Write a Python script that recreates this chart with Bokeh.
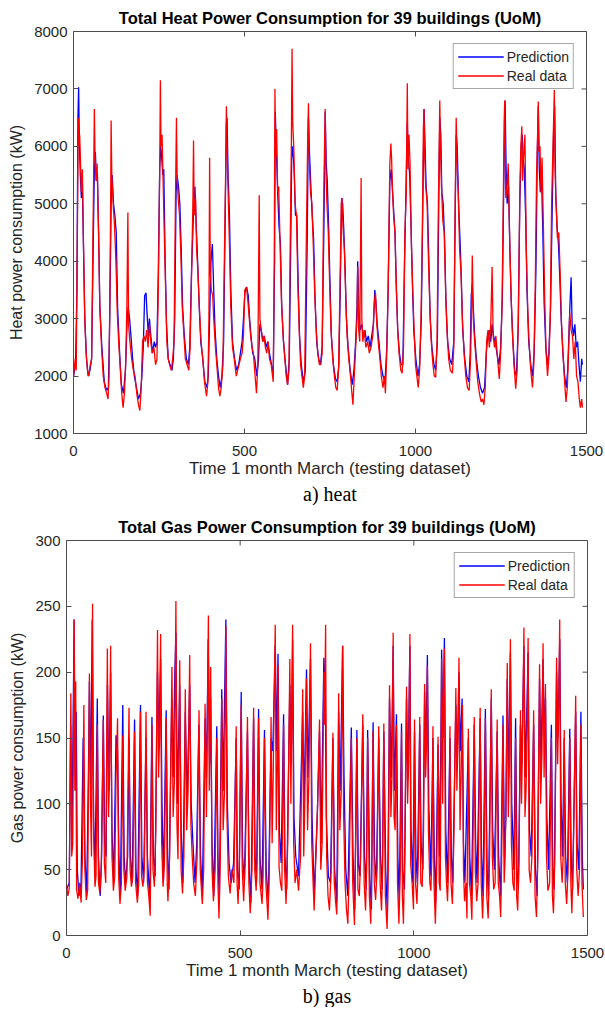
from bokeh.plotting import figure
from bokeh.models import Range1d, FixedTicker, LinearAxis, Title, Legend, LegendItem
from bokeh.layouts import column
from bokeh.embed import file_html
from bokeh.resources import INLINE

# ---------------- data ((time step, kW) vertices) ----------------
heat_real = [
(0,2000),(5,2300),(8,2100),(12,5000),(14,6500),(16,6000),(18,6200),(20,5800),(23,5200),(26,5600),(29,4400),(33,3000),(37,2400),(41,2100),(45,2000),(49,2200),(53,2300),(57,4500),(61,6650),(63,5800),(66,5400),(69,5700),(73,4600),(77,3200),(82,2500),(87,2000),(92,1800),(97,1700),(101,1600),(104,2000),(108,4500),(110,6450),(112,5500),(116,5000),(120,4600),(124,4000),(128,3100),(132,2600),(137,2100),(141,1700),(145,1450),(149,1700),(153,2300),(156,3200),(159,4850),(161,2900),(165,2600),(170,2300),(175,2100),(180,2000),(185,1700),(190,1500),(194,1400),(198,1800),(202,2600),(206,2700),(210,2600),(214,2800),(218,2500),(222,2900),(226,2600),(230,2400),(235,2500),(240,2200),(244,2300),(248,3500),(252,5500),(254,7150),(256,6000),(259,6200),(262,5400),(265,4600),(269,3600),(273,2600),(277,2300),(281,2200),(286,2100),(290,2300),(294,2600),(298,5000),(301,6500),(303,5500),(306,5100),(310,4800),(314,4100),(318,3200),(322,2800),(327,2300),(332,2200),(337,2100),(341,2500),(346,4000),(349,5000),(351,6100),(353,4800),(357,5100),(360,4200),(364,3800),(368,3200),(373,2600),(378,2300),(383,1900),(389,1650),(393,1900),(396,3000),(398,5800),(400,3800),(403,3500),(407,3400),(410,3000),(415,2500),(419,2200),(424,1800),(428,1650),(432,1800),(437,2200),(441,4000),(445,5600),(447,6700),(449,6000),(453,5000),(456,4300),(460,3200),(465,2500),(470,2300),(476,2000),(480,2100),(484,2200),(488,2300),(493,2400),(497,2700),(501,3500),(506,3550),(510,3300),(514,3000),(518,2700),(522,2500),(526,2400),(531,2000),(535,1700),(539,2200),(543,5150),(545,3000),(549,2800),(553,2600),(557,2700),(561,2500),(565,2400),(569,2600),(573,2300),(578,2200),(584,1900),(587,4000),(589,7000),(591,5800),(594,6300),(597,5200),(600,5300),(604,4300),(608,3300),(613,2700),(618,2300),(622,2000),(626,1850),(630,2100),(634,4500),(637,6000),(639,7700),(641,6400),(644,6000),(648,5000),(652,4800),(656,3600),(660,2800),(664,2200),(668,2000),(672,1800),(676,2000),(681,4500),(685,6200),(687,6750),(689,5800),(693,5200),(697,5000),(701,4300),(705,3500),(709,2900),(714,2400),(719,2200),(723,2200),(727,2400),(731,4800),(734,6000),(736,6650),(738,5600),(741,5000),(745,4500),(749,3600),(753,2800),(758,2300),(763,2000),(767,1800),(771,1750),(775,2100),(779,3500),(783,5000),(785,5100),(788,4600),(792,4200),(796,3400),(800,2700),(805,2300),(810,2000),(814,1700),(817,1500),(821,2000),(825,2500),(829,3000),(831,3900),(834,2800),(837,2600),(841,5450),(843,3000),(846,2600),(850,2800),(855,2500),(860,2600),(865,2400),(870,2500),(875,2700),(880,3300),(883,3450),(887,2900),(891,2600),(896,2300),(900,2000),(905,1800),(909,2000),(912,1700),(916,2400),(920,3500),(925,5700),(928,6050),(930,5800),(933,5200),(936,4800),(940,4500),(944,3600),(948,2800),(952,2400),(957,2100),(961,2050),(965,2500),(969,4500),(973,5200),(976,7100),(978,5600),(981,6200),(984,5700),(988,4300),(992,3500),(996,2800),(1000,2200),(1004,2000),(1008,1800),(1012,2100),(1016,3000),(1020,4500),(1023,6300),(1025,6650),(1027,5800),(1030,5300),(1034,5000),(1038,4000),(1042,3200),(1046,2600),(1051,2200),(1055,2000),(1059,1980),(1063,2600),(1067,5000),(1071,6800),(1073,6000),(1076,5300),(1080,4700),(1084,4500),(1088,3500),(1092,2800),(1097,2300),(1102,2100),(1108,2050),(1112,2500),(1116,5000),(1119,6500),(1122,5600),(1125,5200),(1129,4200),(1133,3800),(1137,3000),(1142,2400),(1147,2000),(1152,1800),(1157,1750),(1161,2300),(1164,3200),(1166,4100),(1169,3000),(1173,2600),(1178,2200),(1182,1900),(1187,1700),(1192,1550),(1196,1600),(1200,1500),(1204,1800),(1208,2600),(1212,2800),(1216,2500),(1220,2900),(1224,3900),(1227,2700),(1231,2500),(1235,2700),(1240,2300),(1245,1950),(1249,2400),(1253,3200),(1257,5200),(1259,6400),(1261,6800),(1264,5100),(1268,5300),(1271,5700),(1275,4500),(1279,3500),(1283,2800),(1288,2200),(1293,1780),(1297,2100),(1301,3000),(1305,5200),(1308,6000),(1311,6350),(1313,5400),(1316,5800),(1320,6200),(1324,4200),(1328,3200),(1332,2600),(1337,2100),(1342,1800),(1346,2200),(1350,3500),(1354,5500),(1357,6200),(1359,6780),(1361,5900),(1364,6000),(1367,5200),(1370,5800),(1374,4600),(1378,3300),(1382,2400),(1386,2000),(1390,2300),(1394,3000),(1398,5000),(1402,6000),(1406,6980),(1408,5600),(1411,5000),(1415,4400),(1419,4500),(1423,3800),(1427,2900),(1432,2300),(1436,1900),(1440,1550),(1444,1800),(1448,2500),(1451,3100),(1455,2800),(1459,2700),(1463,2300),(1467,2600),(1471,2000),(1475,1900),(1479,1600),(1482,1450),(1486,1600),(1488,1450)]

heat_pred = [
(0,2000),(6,2200),(10,3500),(13,6500),(15,7030),(17,6100),(20,5500),(23,5100),(26,5300),(29,4300),(33,3000),(38,2300),(43,2000),(48,2100),(53,2300),(57,4000),(61,5600),(64,5900),(67,5400),(70,5500),(73,4600),(77,3200),(83,2500),(90,1900),(97,1750),(102,1800),(106,3000),(110,5000),(113,5500),(117,5000),(121,4800),(125,4500),(129,3200),(134,2500),(140,1850),(146,1700),(152,2100),(157,3000),(160,3200),(164,3000),(168,2700),(173,2300),(178,2000),(184,1800),(190,1600),(196,1700),(200,2000),(204,2500),(208,3400),(212,3450),(215,3100),(219,2700),(222,3000),(226,2700),(231,2400),(236,2600),(240,2500),(244,2600),(248,3800),(252,5600),(255,6000),(258,5800),(261,5500),(264,5600),(268,4000),(272,2900),(277,2300),(282,2200),(288,2100),(292,2300),(296,3000),(300,5200),(303,5500),(307,5300),(311,5000),(315,4200),(319,3200),(324,2700),(330,2300),(336,2200),(340,2500),(345,3800),(350,4700),(355,5300),(359,4600),(363,4000),(367,3300),(372,2600),(378,2300),(384,1900),(390,1800),(394,2000),(398,3000),(402,4000),(406,4300),(410,3500),(414,2800),(419,2300),(424,2000),(429,1800),(434,2000),(439,2600),(443,4500),(447,6400),(449,6500),(452,5500),(456,4800),(460,3500),(465,2600),(471,2300),(477,2100),(483,2200),(488,2400),(493,2600),(497,3000),(501,3450),(506,3550),(511,3400),(515,3000),(519,2700),(524,2400),(530,2300),(536,2000),(541,2300),(545,2900),(549,2800),(554,2600),(558,2700),(563,2500),(568,2600),(573,2400),(579,2200),(584,2000),(588,4000),(590,6600),(593,6000),(597,5200),(601,4600),(605,4300),(609,3200),(614,2600),(620,2200),(626,1850),(631,2300),(635,4200),(638,5800),(641,6000),(645,5600),(649,4800),(653,4800),(657,3600),(661,2700),(666,2200),(672,1900),(678,2100),(683,4200),(687,6500),(690,5900),(694,5300),(698,4800),(702,4400),(706,3400),(711,2600),(717,2300),(722,2200),(727,2500),(732,4500),(736,6600),(739,5700),(742,5400),(746,4600),(750,3600),(754,2700),(760,2200),(766,1950),(771,1900),(776,2200),(780,3500),(784,5100),(787,5000),(790,4600),(794,3900),(798,3000),(803,2500),(809,2100),(815,1850),(820,2100),(825,2600),(829,3200),(831,4000),(834,3200),(838,2800),(843,2900),(847,2700),(852,2800),(857,2600),(862,2700),(867,2500),(872,2700),(877,2900),(881,3500),(884,3300),(888,2900),(893,2600),(899,2200),(905,2000),(911,1900),(916,2500),(920,3500),(925,5400),(929,5600),(932,5300),(936,4900),(940,4500),(944,3500),(948,2800),(953,2400),(958,2200),(963,2200),(968,4000),(972,5200),(976,6400),(979,5800),(983,5500),(987,4600),(991,3600),(995,2800),(1001,2300),(1007,2000),(1012,2200),(1017,3000),(1021,4800),(1025,6650),(1028,6000),(1031,5300),(1035,5000),(1039,4000),(1043,3000),(1048,2500),(1054,2200),(1059,2100),(1064,2600),(1068,5000),(1071,6500),(1074,6200),(1077,5200),(1081,5000),(1085,4400),(1089,3300),(1094,2600),(1100,2300),(1106,2200),(1112,2600),(1116,4800),(1119,6200),(1122,6000),(1126,5000),(1130,4400),(1134,3700),(1138,2800),(1144,2300),(1150,2000),(1156,1900),(1160,2400),(1163,3400),(1166,3600),(1169,3200),(1173,2700),(1178,2300),(1184,2000),(1190,1800),(1196,1700),(1202,1800),(1207,2400),(1211,2700),(1216,2800),(1220,2600),(1224,2900),(1228,2700),(1233,2600),(1238,2400),(1244,2200),(1249,2500),(1254,3400),(1258,5300),(1262,6800),(1265,5600),(1268,5000),(1272,5300),(1276,4200),(1280,3300),(1285,2600),(1290,2100),(1295,2000),(1300,2800),(1305,5000),(1309,6000),(1312,6200),(1315,5800),(1318,5600),(1322,4800),(1326,3500),(1331,2600),(1337,2200),(1342,2000),(1347,2400),(1352,3800),(1356,5800),(1359,6700),(1362,5600),(1365,5200),(1368,5600),(1372,4600),(1376,3300),(1381,2500),(1386,2200),(1390,2400),(1395,3200),(1400,5000),(1404,6300),(1407,6700),(1410,5200),(1414,4600),(1418,4300),(1422,3700),(1426,3000),(1431,2400),(1436,2000),(1441,1800),(1445,2100),(1449,2800),(1452,3300),(1455,3720),(1458,2900),(1462,2700),(1466,2900),(1470,2500),(1474,2600),(1478,2200),(1482,1900),(1486,2300),(1488,2200)]

gas_real = [
(0,38),(4,30),(8,36),(12.5,184),(15,60),(18,70),(22,240),(24,110),(26.5,193),(29,35),(33,28),(38,40),(42,25),(46,60),(50,175),(53,50),(57,27),(61,35),(66,199),(69,100),(72,60),(75,252),(78,80),(82,37),(85,45),(88.7,160),(92,40),(96,32),(100,50),(106,164),(109,55),(113,40),(117.6,218),(121,90),(124,120),(127,220),(131,60),(135,34),(139,45),(142.6,120),(147,165),(150,45),(154,24),(158,40),(162,152),(165,50),(169,34),(174,45),(180,173),(183,50),(187,37),(191,45),(196,155),(199,40),(204,25),(208,40),(213,170),(216,45),(220,37),(224,50),(229,170),(233,40),(237,30),(241,15),(246,160),(249,50),(253,37),(257,80),(262,232),(265,120),(268,150),(271,229),(274,70),(278,37),(282,55),(287,165),(290,40),(292,26),(297,60),(303.6,204),(307,90),(311,120),(315,254),(318,85),(321,58),(326,209),(330,50),(334,32),(338,60),(342,187),(346,80),(350,110),(354.7,213),(358,85),(362,60),(366,40),(371,30),(376,60),(381.6,171),(385,50),(391,24),(395,50),(399,176),(403,90),(408.5,243),(411,110),(415,204),(419,50),(423,26),(428,50),(432.7,150),(436,40),(439,13),(443,60),(447,180),(451,80),(455,110),(458.8,235),(462,90),(466,45),(471,32),(476,50),(482,40),(488.6,159),(491,40),(494,24),(498,60),(503,175),(506,50),(510,26),(515,60),(521,166),(525,40),(529,17),(534,50),(538.7,173),(542,50),(546,34),(549,60),(553,165),(557,40),(563,24),(566,45),(570,150),(574,40),(580,12),(584,50),(589,166),(592,70),(595,120),(598,180),(601,236),(604,80),(607,130),(609,205),(612,52),(616,40),(620,34),(625,160),(628,50),(632,24),(637,70),(643,210),(646,100),(651,236),(654,70),(658,40),(663,50),(668,34),(674,60),(680,187),(683,60),(686,100),(691,195),(694,80),(698,120),(702.5,222),(706,70),(710,40),(713,19),(718,60),(723,100),(728.5,164),(732,50),(736,70),(741,200),(743,160),(746,236),(749,60),(753,30),(757,19),(762,50),(767,154),(771,40),(775,25),(778,16),(781,60),(783.5,184),(787,80),(791,110),(795,220),(798,90),(802,40),(806,20),(810,9),(814,50),(820,150),(824,40),(829,8),(832,60),(836,150),(839,35),(843,30),(847,60),(853,168),(857,40),(861,19),(864,50),(867,150),(872,30),(876,9),(879,60),(882.7,155),(886,40),(890,27),(894,50),(899,159),(903,40),(907,19),(910,50),(913.6,161),(918,30),(923,5),(927,60),(930,190),(934,90),(937,120),(940.5,230),(943,90),(946,80),(950,160),(953,40),(957,9),(961,50),(964.6,155),(967,30),(970,9),(974,70),(979,189),(982,100),(985,130),(988.7,229),(991,54),(995,40),(999,20),(1002,164),(1005,40),(1009,24),(1013,60),(1017,166),(1020,40),(1024,37),(1028,80),(1031,191),(1034,120),(1037,150),(1039,205),(1042,80),(1046,40),(1049,34),(1052,60),(1055,159),(1058,40),(1062,9),(1066,50),(1069.7,151),(1073,40),(1076,34),(1078,120),(1080,210),(1083,100),(1085,180),(1088,218),(1091,60),(1094,40),(1097,26),(1101,60),(1104,159),(1107,40),(1111,24),(1115,70),(1121,188),(1124,110),(1127,150),(1130,211),(1133,80),(1136,120),(1140,175),(1143,50),(1146,26),(1150,40),(1153,13),(1157,157),(1160,40),(1164,30),(1167,12),(1170,60),(1174,166),(1177,50),(1181,26),(1185,40),(1191,173),(1194,40),(1198,13),(1202,50),(1206,165),(1210,30),(1214,13),(1218,60),(1223,187),(1226,60),(1230,35),(1234,40),(1240,164),(1243,40),(1247,30),(1250,14),(1253,60),(1256.7,160),(1260,40),(1263,60),(1266,120),(1269,207),(1272,90),(1275,130),(1278,225),(1281,70),(1285,40),(1289,34),(1293,150),(1296,30),(1299,19),(1303,60),(1307,171),(1310,100),(1313,150),(1317,234),(1320,90),(1323,110),(1326,150),(1329,226),(1332,50),(1336,40),(1340,60),(1345,171),(1349,30),(1353,14),(1357,60),(1362,206),(1365,100),(1369,140),(1372,222),(1375,120),(1379,191),(1382,60),(1386,34),(1391,40),(1396,150),(1399,30),(1402,17),(1406,60),(1411,211),(1414,130),(1417,170),(1420,240),(1423,60),(1427,40),(1430,60),(1433,156),(1436,40),(1440,24),(1444,50),(1449,150),(1452,40),(1455,17),(1459,60),(1466,182),(1469,50),(1473,30),(1477,50),(1481,160),(1484,40),(1488,14)]

gas_pred = [
(0,35),(8,40),(12,160),(16,80),(22,240),(25,120),(28,170),(31,50),(36,30),(42,40),(48,150),(53,60),(58,30),(63,120),(66,193),(70,110),(74,240),(78,90),(82,45),(88.7,180),(92,60),(97,30),(101,60),(106,167),(110,70),(114,60),(118,190),(122,110),(127,200),(131,80),(136,40),(142.6,152),(147,140),(151,60),(155,30),(162,175),(166,60),(170,40),(176,60),(180,150),(184,60),(189,40),(196,164),(200,50),(205,30),(213,175),(217,60),(222,40),(229,150),(233,60),(240,25),(246,166),(250,60),(255,45),(262,200),(266,150),(271,210),(275,100),(279,40),(287,171),(291,60),(295,35),(303,180),(307,120),(312,200),(315,230),(319,100),(326,190),(330,80),(335,40),(342,170),(347,100),(354.7,190),(359,100),(364,70),(370,40),(375,70),(381,160),(386,60),(391,30),(399,165),(403,120),(408,225),(412,130),(415,180),(419,70),(424,30),(432.7,159),(436,60),(440,25),(447,187),(451,110),(458.8,240),(463,100),(468,55),(474,40),(481,55),(488.6,150),(492,50),(497,35),(503,185),(507,60),(512,40),(521,155),(526,50),(531,25),(538.7,165),(543,60),(547,40),(553,172),(557,60),(563,35),(570,156),(575,50),(581,25),(589,150),(594,140),(601,220),(605,140),(609,214),(613,80),(618,55),(625,168),(629,60),(634,35),(643,190),(647,130),(651,225),(655,90),(660,60),(668,45),(680,170),(684,100),(691,202),(695,120),(702.5,210),(707,90),(713,30),(722,90),(728.5,155),(733,70),(741,211),(745,190),(748,90),(754,45),(760,40),(767,150),(772,50),(778,25),(783.5,170),(788,110),(795,220),(799,120),(804,50),(810,30),(820,158),(825,60),(830,20),(836,156),(840,55),(845,45),(853,160),(858,60),(863,35),(867,156),(873,45),(878,20),(882.7,162),(887,60),(892,40),(899,150),(904,60),(909,35),(913.6,155),(919,50),(924,15),(930,180),(935,120),(940.5,220),(944,110),(950,168),(954,60),(958,25),(964.6,161),(968,50),(973,35),(979,180),(983,120),(988.7,220),(992,80),(997,40),(1002,155),(1006,60),(1010,40),(1017,160),(1021,70),(1026,50),(1031,185),(1035,140),(1039,213),(1043,100),(1049,45),(1055,150),(1059,60),(1063,25),(1069.7,145),(1074,60),(1078,150),(1080,217),(1084,150),(1088,226),(1092,80),(1097,40),(1104,150),(1108,60),(1112,40),(1121,175),(1125,130),(1130,200),(1134,140),(1139,180),(1143,70),(1147,40),(1157,150),(1161,60),(1166,30),(1174,160),(1178,70),(1182,40),(1191,165),(1195,60),(1199,30),(1206,172),(1211,50),(1215,30),(1223,180),(1227,80),(1232,50),(1240,155),(1244,60),(1250,30),(1256.7,167),(1261,60),(1265,90),(1269,195),(1273,120),(1278,215),(1282,100),(1288,50),(1293,165),(1297,50),(1301,35),(1307,160),(1311,130),(1317,220),(1321,120),(1329,215),(1333,80),(1338,60),(1345,160),(1350,50),(1355,30),(1362,195),(1366,130),(1372,210),(1376,150),(1379,180),(1383,90),(1388,50),(1396,160),(1400,50),(1404,35),(1411,200),(1415,150),(1420,225),(1424,100),(1428,60),(1433,150),(1437,60),(1442,40),(1449,157),(1453,60),(1457,35),(1466,170),(1470,70),(1475,50),(1481,170),(1485,60),(1488,35)]

x_ticks = [0, 500, 1000, 1500]
heat_y_ticks = [1000, 2000, 3000, 4000, 5000, 6000, 7000, 8000]
gas_y_ticks = [0, 50, 100, 150, 200, 250, 300]
series_names = ["Prediction", "Real data"]

AX = "#4d4d4d"
TXT = "#262626"
SANS = "Liberation Sans"
TICK_PX = 5


def panel(title, ylabel, caption, pred, real, yr, yticks,
          left, right, top, bottom, fw, fh, ylab_standoff, cap_standoff):
    p = figure(frame_width=fw, frame_height=fh,
               x_range=Range1d(0, 1500), y_range=Range1d(*yr),
               output_backend="svg", toolbar_location=None,
               min_border_left=left, min_border_right=right,
               min_border_top=top, min_border_bottom=bottom,
               x_axis_type=None, y_axis_type=None)
    p.grid.visible = False
    p.outline_line_color = AX
    p.outline_line_width = 1
    p.background_fill_color = "white"
    p.border_fill_color = "white"

    def style(ax):
        ax.axis_line_color = None
        ax.major_tick_line_color = AX
        ax.major_tick_in = TICK_PX
        ax.major_tick_out = 0
        ax.minor_tick_line_color = None
        ax.major_label_text_font = SANS
        ax.major_label_text_font_size = "15px"
        ax.major_label_text_color = TXT
        ax.axis_label_text_font = SANS
        ax.axis_label_text_font_style = "normal"
        ax.axis_label_text_color = TXT

    xb = LinearAxis(ticker=FixedTicker(ticks=x_ticks),
                    axis_label="Time 1 month March (testing dataset)")
    style(xb)
    xb.axis_label_text_font_size = "17px"
    xb.major_label_standoff = 12
    xb.axis_label_standoff = 0
    p.add_layout(xb, "below")

    yl = LinearAxis(ticker=FixedTicker(ticks=yticks), axis_label=ylabel)
    style(yl)
    yl.axis_label_text_font_size = "16px"
    yl.major_label_standoff = 6
    yl.axis_label_standoff = ylab_standoff
    p.add_layout(yl, "left")

    # inward tick marks on the top and right edges of the box (MATLAB style)
    dx = 1500 / fw * TICK_PX
    dy = (yr[1] - yr[0]) / fh * TICK_PX
    p.segment(x0=x_ticks, y0=[yr[1]] * len(x_ticks),
              x1=x_ticks, y1=[yr[1] - dy] * len(x_ticks),
              line_color=AX, line_width=1)
    p.segment(x0=[1500] * len(yticks), y0=yticks,
              x1=[1500 - dx] * len(yticks), y1=yticks,
              line_color=AX, line_width=1)

    p.title.text = title
    p.title.align = "center"
    p.title.text_font = SANS
    p.title.text_font_size = "16.5px"
    p.title.text_font_style = "bold"
    p.title.text_color = "black"
    p.title.standoff = 10

    cap = Title(text=caption, align="center", text_font="Liberation Serif",
                text_font_size="20px", text_font_style="normal",
                text_color="black", standoff=cap_standoff)
    p.add_layout(cap, "below")

    r1 = p.line([v[0] for v in pred], [v[1] for v in pred],
                line_color="#0000ff", line_width=1.3)
    r2 = p.line([v[0] for v in real], [v[1] for v in real],
                line_color="#ff0000", line_width=1.3)

    leg = Legend(items=[LegendItem(label=series_names[0], renderers=[r1]),
                        LegendItem(label=series_names[1], renderers=[r2])],
                 location="top_right", margin=12, padding=4, spacing=2,
                 glyph_width=46, glyph_height=17, label_height=17,
                 label_standoff=3,
                 label_text_font=SANS, label_text_font_size="14px",
                 label_text_color=TXT,
                 border_line_color=AX, border_line_width=1,
                 background_fill_color="white", background_fill_alpha=1)
    p.add_layout(leg)
    return p


p1 = panel("Total Heat Power Consumption for 39 buildings (UoM)",
           "Heat power consumption (kW)", "a) heat",
           heat_pred, heat_real, (1000, 8000), heat_y_ticks,
           73, 19, 31, 72, 513, 402, 6, 0)
p2 = panel("Total Gas Power Consumption for 39 buildings (UoM)",
           "Gas power consumption (kW)", "b) gas",
           gas_pred, gas_real, (0, 300), gas_y_ticks,
           66, 18, 35, 72, 521, 395, 6, 1)

layout = column(column(p1), column(p2), spacing=0)
open("out.html", "w").write(file_html(layout, INLINE))
